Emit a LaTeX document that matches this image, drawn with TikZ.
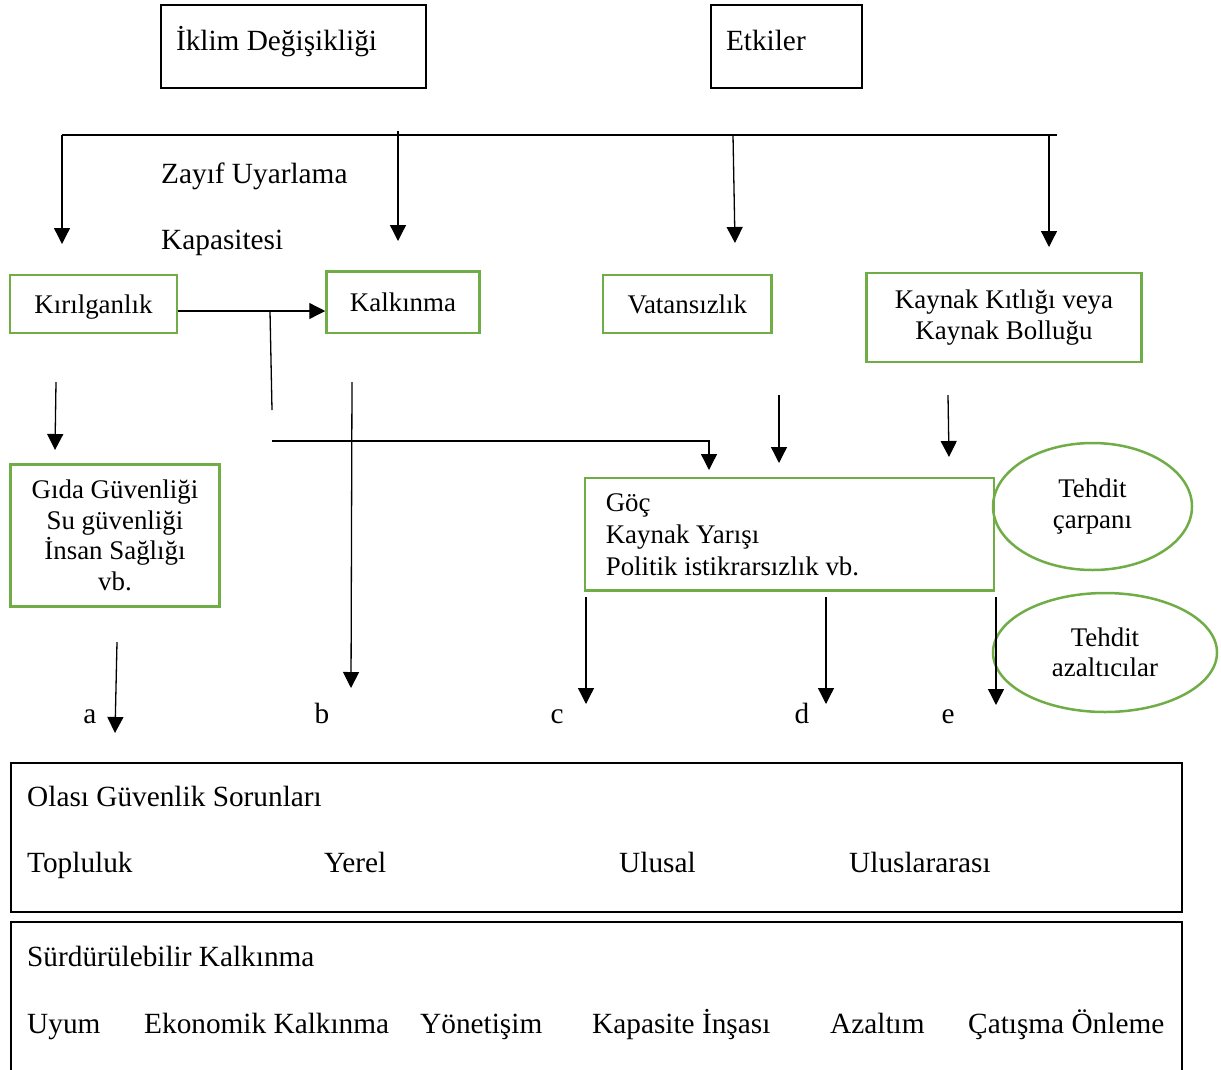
\documentclass[tikz,border=0pt]{standalone}
\usepackage{fontspec}
\setmainfont{Liberation Serif}
\usepackage{tikz}
\usetikzlibrary{shapes.geometric,arrows.meta}
\definecolor{yesil}{HTML}{70AD47}
\newcommand{\metin}{\fontsize{29.3pt}{31pt}\selectfont}
\newcommand{\kucuk}{\fontsize{26.9pt}{30.5pt}\selectfont}
\newcommand{\yaz}[3]{\node[anchor=base west] (#1) at (#2) {#3};}

\begin{document}
\begin{tikzpicture}[
      x=1pt,y=-1pt,
      every node/.style={font=\metin, inner sep=0pt},
      blackbox/.style={draw=black, line width=2pt, inner xsep=15pt, align=flush left, text height=20pt, text depth=13pt},
      greenbox/.style={draw=yesil, line width=2.5pt, align=center, font=\kucuk},
      teksatir/.style={text height=19pt, text depth=1pt},
      circlebox/.style={ellipse, draw=yesil, line width=2.5pt, align=center, font=\kucuk},
      bigbox/.style={draw=black, line width=2pt, minimum width=1171pt},
      pointer/.style={line width=1.3pt, -{Triangle[width=16pt,length=16pt]}},
      wire/.style={line width=1.3pt}
      ]
      \useasboundingbox (0,0) rectangle (1221,1069);
      % top boxes
      \node[blackbox, text width=235pt, minimum height=83pt] (iklim) at (293.5,46.5) {İklim Değişikliği};
      \node[blackbox, text width=121pt, minimum height=83pt] (etkiler) at (786.5,46.5) {Etkiler};
      \node[anchor=base west] (zayif) at (161,183) {Zayıf Uyarlama};
      \node[anchor=base west] (kapasite) at (161,249) {Kapasitesi};

      % green boxes
      \node[greenbox, teksatir, minimum width=167pt, minimum height=58pt] (kirilgan) at (93.5,304) {Kırılganlık};
      \node[greenbox, teksatir, minimum width=153pt, minimum height=61.5pt] (kalkinma) at (403,302.3) {Kalkınma};
      \node[greenbox, teksatir, minimum width=168.5pt, minimum height=58pt] (vatansiz) at (687.3,304) {Vatansızlık};
      \node[greenbox, minimum width=275pt, minimum height=89pt] (kaynak) at (1004,317.5) {Kaynak Kıtlığı veya\\Kaynak Bolluğu};
      \node[greenbox, minimum width=209pt, minimum height=142pt] (gida) at (115,535.5) {Gıda Güvenliği\\Su güvenliği\\İnsan Sağlığı\\vb.};
      \node[greenbox, align=flush left, text width=367pt, inner xsep=21pt, minimum height=112.5pt, font=\fontsize{26.9pt}{32pt}\selectfont] (goc) at (789.3,534.3) {Göç\\Kaynak Yarışı\\Politik istikrarsızlık vb.};
      \node[circlebox, minimum width=199pt, minimum height=127pt] (carpan) at (1092.5,506.5) {Tehdit\\çarpanı};
      \node[circlebox, minimum width=224pt, minimum height=119pt] (azaltici) at (1105,652.5) {Tehdit\\azaltıcılar};

      % letters
      \node[anchor=base] (la) at (90,723) {a};
      \node[anchor=base] (lb) at (322,723) {b};
      \node[anchor=base] (lc) at (557,723) {c};
      \node[anchor=base] (ld) at (802,723) {d};
      \node[anchor=base] (le) at (948,723) {e};

      % bottom boxes
      \node[bigbox, minimum height=149pt] (olasi) at (596.5,837.5) {};
      \yaz{olasibaslik}{27,806}{Olası Güvenlik Sorunları}
      \yaz{topluluk}{27,872}{Topluluk}
      \yaz{yerel}{324,872}{Yerel}
      \yaz{ulusal}{619,872}{Ulusal}
      \yaz{uluslar}{849,872}{Uluslararası}
      \node[bigbox, minimum height=160pt] (surdur) at (596.5,1002) {};
      \yaz{surdurbaslik}{27,966}{Sürdürülebilir Kalkınma}
      \yaz{uyum}{27,1033}{Uyum}
      \yaz{ekonomik}{144,1033}{Ekonomik Kalkınma}
      \yaz{yonetisim}{420,1033}{Yönetişim}
      \yaz{insa}{592,1033}{Kapasite İnşası}
      \yaz{azaltim}{830,1033}{Azaltım}
      \yaz{catisma}{968,1033}{Çatışma Önleme}

      % connectors
      \coordinate (bus w) at (62,135);
      \coordinate (bus e) at (1057,135);
      \coordinate (t1) at (62,244);
      \coordinate (s2) at (398,131);
      \coordinate (t2) at (398,241);
      \coordinate (s3) at (733,135);
      \coordinate (t3) at (735,243);
      \coordinate (s4) at (1049,135);
      \coordinate (t4) at (1049,247);
      \coordinate (dal1) at (270,311);
      \coordinate (dal2) at (272,410);
      \coordinate (dal3) at (272,441);
      \coordinate (dal4) at (709,441);
      \coordinate (dal5) at (709,470);
      \coordinate (v1) at (779,395);
      \coordinate (v2) at (779,463);
      \coordinate (y1) at (948,395);
      \coordinate (y2) at (949,457);
      \coordinate (g1) at (56,382);
      \coordinate (g2) at (55,450);
      \coordinate (a1) at (117,642);
      \coordinate (a2) at (115,733);
      \coordinate (b1) at (352,382);
      \coordinate (b2) at (351,688);
      \coordinate (c1) at (586,597);
      \coordinate (c2) at (586,704);
      \coordinate (d1) at (826,597);
      \coordinate (d2) at (826,704);
      \coordinate (e1) at (996,597);
      \coordinate (e2) at (996,705);

      \draw[wire] (bus w) -- (bus e);
      \path (bus w) edge [pointer] (t1);
      \path (s2) edge [pointer] (t2);
      \path (s3) edge [pointer] (t3);
      \path (s4) edge [pointer] (t4);
      \draw[pointer] (kirilgan.east |- dal1) -- (kalkinma.west |- dal1);
      \draw[wire] (dal1) -- (dal2);
      \draw[pointer] (dal3) -- (dal4) -- (dal5);
      \path (v1) edge [pointer] (v2);
      \path (y1) edge [pointer] (y2);
      \path (g1) edge [pointer] (g2);
      \path (a1) edge [pointer] (a2);
      \path (b1) edge [pointer] (b2);
      \path (c1) edge [pointer] (c2);
      \path (d1) edge [pointer] (d2);
      \path (e1) edge [pointer] (e2);
    \end{tikzpicture}
\end{document}
